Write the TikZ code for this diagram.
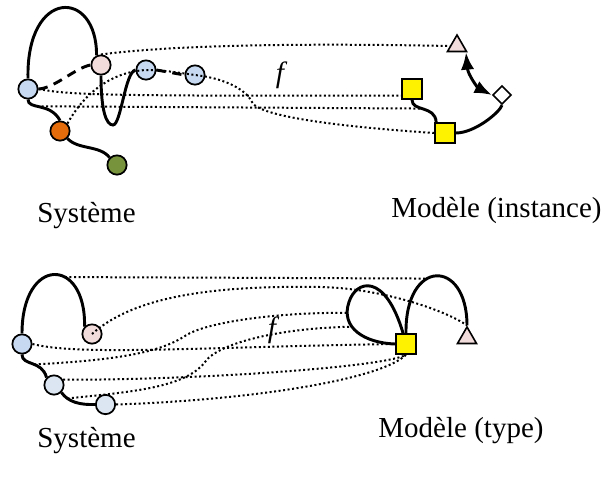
\documentclass[tikz,border=0pt]{standalone}
\usepackage{fontspec}
\setmainfont{Liberation Serif}
\usetikzlibrary{shapes.geometric,arrows.meta}
\definecolor{sysblue}{RGB}{198,217,241}
\definecolor{syslight}{RGB}{220,230,242}
\definecolor{syspink}{RGB}{242,220,219}
\definecolor{sysorange}{RGB}{228,108,10}
\definecolor{sysgreen}{RGB}{119,147,60}
\tikzset{
  sysnode/.style={circle,draw,line width=1.3pt,minimum size=14.5pt,inner sep=0pt},
  modsquare/.style={rectangle,draw,line width=1.2pt,fill=yellow,minimum size=15pt,inner sep=0pt},
  modtri/.style={regular polygon,regular polygon sides=3,draw,line width=1.2pt,fill=syspink,minimum size=16.5pt,inner sep=0pt},
  moddiam/.style={diamond,draw,line width=1.2pt,fill=white,minimum size=14pt,inner sep=0pt},
  link/.style={line width=2.2pt},
  dashlink/.style={line width=2.2pt,dash pattern=on 7pt off 5pt},
  maplink/.style={line width=1.5pt,dash pattern=on 1.5pt off 1.9pt},
  caption/.style={font=\fontsize{21.75}{26}\selectfont,inner sep=0pt,anchor=base},
  funlabel/.style={font=\fontsize{22}{26}\selectfont\itshape,inner sep=0pt}
}
\begin{document}
\begin{tikzpicture}[x=0.75pt,y=-0.75pt]
\useasboundingbox (0,0) rectangle (607,482);
% instance
\node[sysnode,fill=sysblue] (sa) at (28,89) {};
\node[sysnode,fill=syspink] (sb) at (101,65) {};
\node[sysnode,fill=sysblue] (sc) at (146,70) {};
\node[sysnode,fill=sysblue] (sd) at (195,75) {};
\node[sysnode,fill=sysorange] (so) at (60,131) {};
\node[sysnode,fill=sysgreen] (sg) at (117,165) {};
\node[modtri] (mtri) at (457,46) {};
\node[moddiam] (mdia) at (502,95) {};
\node[modsquare] (msq1) at (412,89) {};
\node[modsquare] (msq2) at (445,133) {};

\draw[link] (sa.north) .. controls (26,-12) and (97,-12) .. (sb.115);
\draw[dashlink] (sa.east) .. controls (55,88) and (75,68) .. (sb.west);
\draw[link] (sb.south) .. controls (101,110) and (106,125) .. (113,125) .. controls (121,125) and (125,72) .. (sc.west);
\draw[dashlink] (sc.east) -- (sd.west);
\draw[link] (sa.south) .. controls (28,110) and (50,102) .. (so.north) coordinate[pos=0.42] (sao);
\draw[link] (so.south east) .. controls (78,150) and (100,145) .. (sg.north west);
\draw[link] (msq1.south) .. controls (412,112) and (435,105) .. ([xshift=1.5pt]msq2.north west) coordinate[pos=0.45] (mqq);
\draw[link] (msq2.east) .. controls (475,133) and (500,112) .. (mdia.south);
\draw[link,{Latex[length=13pt,width=10pt]}-{Latex[length=13pt,width=10pt]}] (mtri.-35) .. controls (468,75) and (478,88) .. (mdia.west);

\draw[maplink] (sb.north) .. controls (150,48) and (250,42) .. (mtri.west);
\draw[maplink] (sa.east) .. controls (70,95) and (100,96) .. ([yshift=-5pt]msq1.west);
\draw[maplink] (sao) -- (mqq);
\draw[maplink] (so.north east) .. controls (85,92) and (112,72) .. (sc.center) .. controls (165,70) and (180,73) .. (sd.center) .. controls (222,78) and (245,88) .. (252,102) .. controls (256,112) and (300,124) .. (msq2.west);
\node[caption] (sys1) at (86.5,222) {Système};
\node[caption] (mod1) at (496.5,217) {Modèle (instance)};
\node[funlabel] (f1) at (280,75) {f};

% type
\node[sysnode,fill=sysblue] (ta) at (22,344) {};
\node[sysnode,fill=syspink] (tb) at (92,334) {};
\node[sysnode,fill=syslight] (tc) at (54,385) {};
\node[sysnode,fill=syslight] (td) at (105.5,404.5) {};
\node[modsquare] (ksq) at (406,344) {};
\node[modtri] (ktri) at (467,338) {};

\draw[link] (ta.north) .. controls (22,256) and (86,256) .. (tb.north west) coordinate[pos=0.62] (tab);
\draw[link] (ta.south) .. controls (22,366) and (42,360) .. (tc.north west) coordinate[pos=0.55] (tac);
\draw[link] (tc.south east) .. controls (68,402) and (80,405) .. (td.west) coordinate[pos=0.25] (tcd);
\draw[link] (ksq.west) .. controls (365,343) and (340,328) .. (349,302) coordinate[pos=0.85] (lpa) coordinate[pos=0.62] (lpb) .. controls (356,280) and (385,272) .. ([xshift=-2.2pt]ksq.north);
\draw[link] (ksq.north) .. controls (405,258) and (467,258) .. (ktri.north) coordinate[pos=0.4] (kkl);

\draw[maplink] (tab) -- (kkl);
\draw[maplink] (tb.center) .. controls (130,300) and (200,285) .. (320,287) .. controls (380,288) and (445,310) .. (ktri.north);
\draw[maplink] (ta.east) .. controls (80,356) and (200,347) .. (ksq.west);
\draw[maplink] (tac) .. controls (120,360) and (160,352) .. (185,336) .. controls (205,322) and (280,312) .. (lpa);
\draw[maplink] (tc.30) .. controls (200,380) and (385,367) .. (ksq.south);
\draw[maplink] (tcd) .. controls (130,392) and (185,388) .. (205,362) .. controls (218,343) and (280,328) .. (lpb);
\draw[maplink] (td.east) .. controls (250,400) and (380,380) .. (ksq.south);
\node[caption] (sys2) at (86.5,447) {Système};
\node[caption] (mod2) at (461,437) {Modèle (type)};
\node[funlabel] (f2) at (272,330) {f};
\end{tikzpicture}
\end{document}
